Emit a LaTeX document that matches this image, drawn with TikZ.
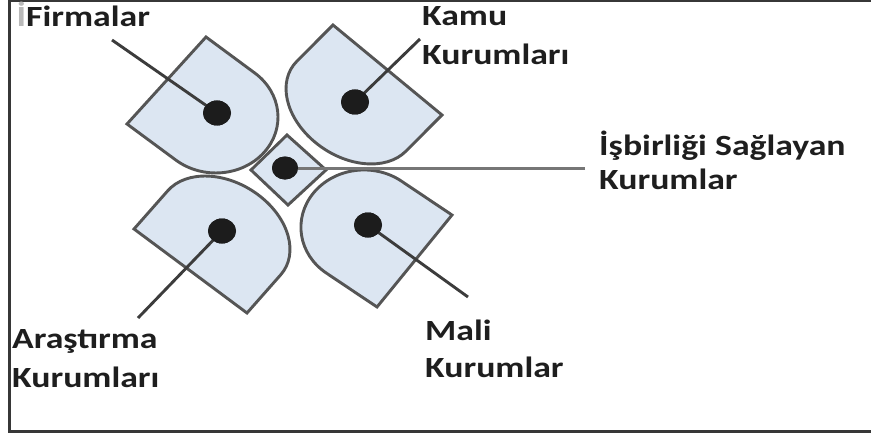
\documentclass[tikz,border=0pt]{standalone}
\usepackage{fontspec}
\usetikzlibrary{shapes.geometric}
\newfontfamily\labfont{Carlito}[FakeStretch=1.22]
\definecolor{petalfill}{RGB}{220,230,242}
\definecolor{petalline}{RGB}{85,85,85}
\definecolor{conline}{RGB}{60,60,60}
\definecolor{midline}{RGB}{118,118,118}
\definecolor{dotcol}{RGB}{28,28,28}
\definecolor{txtcol}{RGB}{30,30,30}
\definecolor{framecol}{RGB}{55,55,55}
\begin{document}
\begin{tikzpicture}[x=1pt,y=1pt,yscale=-1,
  petal/.style={fill=petalfill,draw=petalline,line width=2.9pt,line join=miter},
  conn/.style={draw=conline,line width=2.9pt},
  midconn/.style={draw=midline,line width=3pt},
  dotnode/.style={ellipse,fill=dotcol,inner sep=0pt,minimum width=28pt,minimum height=25pt},
  smalldot/.style={ellipse,fill=dotcol,inner sep=0pt,minimum width=26pt,minimum height=23pt},
  lab/.style={anchor=base west,inner sep=0pt,text=txtcol,font=\labfont\bfseries\fontsize{29.3}{34}\selectfont}]
\clip (0,0) rectangle (871,436);
\useasboundingbox (0,0) rectangle (871,436);
% frame (right side lies outside the picture)
\draw[framecol,line width=2.6pt] (900,1.2) -- (9.5,1.2) -- (9.5,431.5) -- (900,431.5);
% petals
\begin{scope}[cm={-39.5,43.5,48.75,36,(166.5,80.5)}]
  \path[petal] (-1,0) -- (1,0) -- (1,1) arc[start angle=0,end angle=180,radius=1] -- cycle;
\end{scope}
\begin{scope}[cm={54.5,45,-36.1,36.2,(387.5,70)}]
  \path[petal] (-1,0) -- (1,0) -- (1,1) arc[start angle=0,end angle=180,radius=1] -- cycle;
\end{scope}
\begin{scope}[cm={56.5,42,33.7,-38.2,(190.5,271)}]
  \path[petal] (-1,0) -- (1,0) -- (1,1) arc[start angle=0,end angle=180,radius=1] -- cycle;
\end{scope}
\begin{scope}[cm={37.5,-46,-50.6,-33.9,(414.5,261)}]
  \path[petal] (-1,0) -- (1,0) -- (1,1) arc[start angle=0,end angle=180,radius=1] -- cycle;
\end{scope}
% centre diamond
\path[petal] (287,135) -- (326,170) -- (288,205) -- (251,170) -- cycle;
% dots
\node[dotnode] (dF) at (217,113) {};
\node[dotnode] (dK) at (355,102) {};
\node[dotnode] (dA) at (222,231) {};
\node[dotnode] (dM) at (368,225) {};
\node[smalldot] (dI) at (285,168) {};
% connector free ends
\coordinate (eF) at (112,40);
\coordinate (eK) at (420,39);
\coordinate (eA) at (138,318);
\coordinate (eM) at (468,297);
\coordinate (eI) at (585,168);
% connectors
\draw[conn] (eF) -- (dF.center);
\draw[conn] (eK) -- (dK.center);
\draw[conn] (eA) -- (dA.center);
\draw[conn] (eM) -- (dM.center);
\draw[midconn] (eI) -- (dI.center);
% redraw dots on top
\node[dotnode] at (dF) {};
\node[dotnode] at (dK) {};
\node[dotnode] at (dA) {};
\node[dotnode] at (dM) {};
\node[smalldot] at (dI) {};
% labels
\node[lab] (tF) at (16.5,26.7) {{\color{gray!55}İ}Firmalar};
\node[lab] (tK1) at (422,26) {Kamu};
\node[lab] (tK2) at (422,65) {Kurumları};
\node[lab] (tI1) at (599,155.5) {İşbirliği Sağlayan};
\node[lab] (tI2) at (599,189.5) {Kurumlar};
\node[lab] (tA1) at (12,348.3) {Araştırma};
\node[lab] (tA2) at (12,387.3) {Kurumları};
\node[lab] (tM1) at (425,340) {Mali};
\node[lab] (tM2) at (425,377.3) {Kurumlar};
\end{tikzpicture}
\end{document}
